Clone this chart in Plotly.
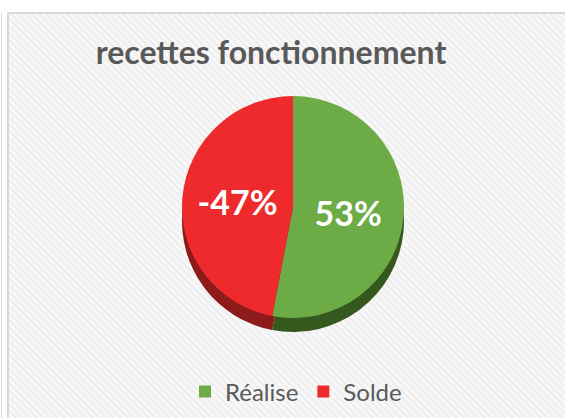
import plotly.graph_objects as go

# ---- data ----
categories = ["Réalise", "Solde"]
percent_values = [53, -47]
top_colors = ["#6cab45", "#ee2a2c"]
side_colors = ["#35581f", "#8e1b1b"]
title_text = "recettes fonctionnement"

W, H = 565, 418

pie_values = [abs(v) for v in percent_values]
labels_text = [f"{v}%" for v in percent_values]

# pie geometry (pixels)
cx, cy, d = 293, 207, 222
depth = 14


def px(x):
    return x / W


def py(y):
    return 1 - y / H


def dom(cx, cy, d):
    return dict(x=[px(cx - d / 2 - 10), px(cx + d / 2 + 10)],
                y=[py(cy + d / 2), py(cy - d / 2)])


fig = go.Figure()

# side (thickness) of the pie
fig.add_trace(go.Pie(
    labels=[c + " (côté)" for c in categories],
    values=pie_values,
    sort=False, direction="clockwise", rotation=0,
    marker=dict(colors=side_colors, line=dict(width=0)),
    textinfo="none", hoverinfo="skip", showlegend=False,
    domain=dom(cx, cy + depth, d),
))

# top face
fig.add_trace(go.Pie(
    labels=categories,
    values=pie_values,
    text=labels_text,
    sort=False, direction="clockwise", rotation=0,
    marker=dict(colors=top_colors, line=dict(width=0)),
    textinfo="text", textposition="inside",
    insidetextorientation="horizontal",
    insidetextfont=dict(family="Lato", size=34, color="white", weight="bold"),
    hovertemplate="%{label}: %{text}<extra></extra>",
    domain=dom(cx, cy, d),
))

# background: light frame with diagonal hatch
shapes = [
    dict(type="rect", xref="paper", yref="paper", layer="below",
         x0=px(8), x1=px(W + 20), y0=py(H + 20), y1=py(13),
         fillcolor="#f9f9f9", line=dict(width=0)),
]
step = 7
s = 8 - H
while s < W:
    shapes.append(dict(type="line", xref="paper", yref="paper", layer="below",
                       x0=px(s), y0=py(13), x1=px(s + H), y1=py(13 + H),
                       line=dict(color="#efefef", width=2.5)))
    s += step
# white margins outside the frame
shapes += [
    dict(type="rect", xref="paper", yref="paper", layer="below",
         x0=px(-5), x1=px(8), y0=py(H + 5), y1=py(-5),
         fillcolor="white", line=dict(width=0)),
    dict(type="rect", xref="paper", yref="paper", layer="below",
         x0=px(-5), x1=px(W + 5), y0=py(13), y1=py(-5),
         fillcolor="white", line=dict(width=0)),
    dict(type="rect", xref="paper", yref="paper", layer="below",
         x0=px(8), x1=px(W + 20), y0=py(H + 20), y1=py(13),
         fillcolor="rgba(0,0,0,0)", line=dict(color="#d9d9d9", width=2)),
    dict(type="line", xref="paper", yref="paper", layer="below",
         x0=px(1.5), x1=px(1.5), y0=py(H), y1=py(13),
         line=dict(color="#dcdcdc", width=1)),
]

fig.update_layout(
    width=W, height=H,
    margin=dict(l=0, r=0, t=0, b=0),
    paper_bgcolor="white",
    title=dict(text=title_text, x=px(271), xanchor="center",
               y=py(53), yanchor="middle",
               font=dict(family="Lato", size=32, color="#595959", weight="bold")),
    legend=dict(orientation="h", x=px(296), xanchor="center",
                y=py(392), yanchor="middle", bgcolor="rgba(0,0,0,0)",
                font=dict(family="Lato", size=24, color="#595959"),
                traceorder="normal"),
    shapes=shapes,
)

fig.write_html(
    "out.html",
    config={"displayModeBar": False},
    post_script="document.body.style.margin='0';document.body.style.overflow='hidden';",
)
